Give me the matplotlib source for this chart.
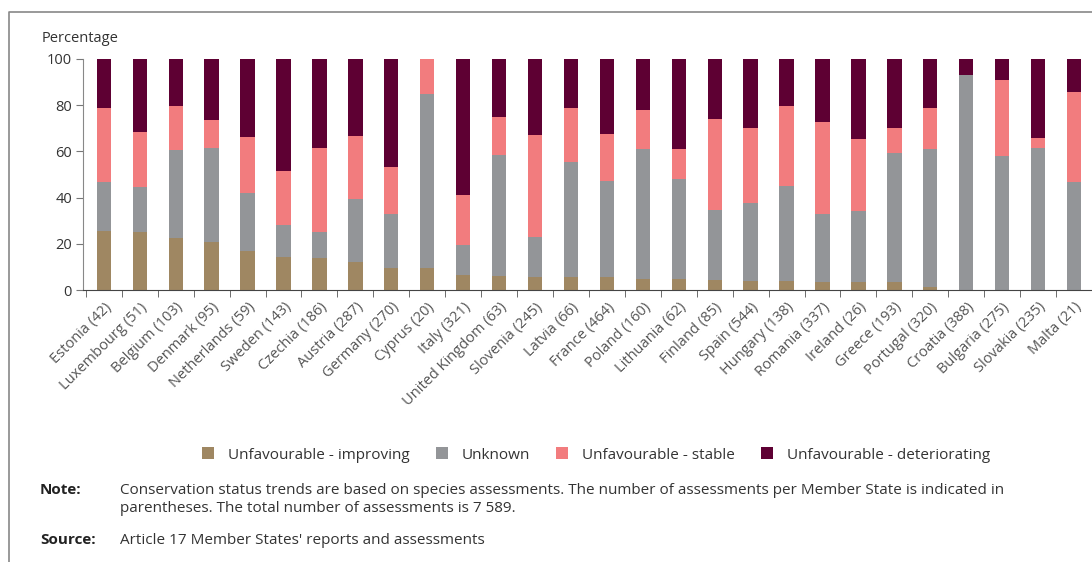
import matplotlib
matplotlib.use('Agg')
import matplotlib.pyplot as plt
import numpy as np
from matplotlib.patches import Patch
from matplotlib.lines import Line2D

plt.rcParams['font.family'] = ['Open Sans', 'DejaVu Sans']

countries = ['Estonia (42)', 'Luxembourg (51)', 'Belgium (103)', 'Denmark (95)',
             'Netherlands (59)', 'Sweden (143)', 'Czechia (186)', 'Austria (287)',
             'Germany (270)', 'Cyprus (20)', 'Italy (321)', 'United Kingdom (63)',
             'Slovenia (245)', 'Latvia (66)', 'France (464)', 'Poland (160)',
             'Lithuania (62)', 'Finland (85)', 'Spain (544)', 'Hungary (138)',
             'Romania (337)', 'Ireland (26)', 'Greece (193)', 'Portugal (320)',
             'Croatia (388)', 'Bulgaria (275)', 'Slovakia (235)', 'Malta (21)']

improving = [25.7, 25.0, 22.7, 20.6, 16.9, 14.1, 13.7, 12.0, 9.4, 9.7, 6.5, 6.1,
             5.6, 5.8, 5.8, 4.6, 4.6, 4.3, 3.9, 4.0, 3.5, 3.5, 3.3, 1.4,
             0.0, 0.0, 0.0, 0.0]
unknown = [21.2, 19.4, 37.9, 40.7, 24.9, 14.0, 11.3, 27.2, 23.4, 75.1, 12.8, 52.3,
           17.2, 49.8, 41.2, 56.3, 43.5, 30.3, 33.9, 41.2, 29.3, 30.6, 55.9, 59.6,
           93.1, 58.2, 61.3, 46.9]
stable = [31.7, 24.1, 19.1, 12.3, 24.3, 23.4, 36.6, 27.5, 20.4, 15.2, 22.0, 16.3,
          44.2, 23.2, 20.5, 16.9, 13.1, 39.6, 32.2, 34.5, 39.8, 31.3, 10.8, 17.8,
          0.0, 32.7, 4.4, 39.0]
deteriorating = [21.4, 31.5, 20.3, 26.4, 33.9, 48.5, 38.4, 33.3, 46.8, 0.0, 58.7, 25.3,
                 33.0, 21.2, 32.5, 22.2, 38.8, 25.8, 30.0, 20.3, 27.4, 34.6, 30.0, 21.2,
                 6.9, 9.1, 34.3, 14.1]

series = [improving, unknown, stable, deteriorating]
labels = ['Unfavourable - improving', 'Unknown', 'Unfavourable - stable',
          'Unfavourable - deteriorating']
colors = ['#9f8762', '#939598', '#f27c7e', '#5e0033']

fig = plt.figure(figsize=(10.92, 5.62), dpi=100)
ax = fig.add_axes([83 / 1092, 272 / 562, 1009 / 1092, 231 / 562])

x = np.arange(len(countries))
bottom = np.zeros(len(countries))
for vals, col in zip(series, colors):
    ax.bar(x, vals, width=0.4, bottom=bottom, color=col, zorder=2)
    bottom += np.array(vals)

ax.set_xlim(-0.58, 27.5)
ax.set_ylim(0, 100)
ax.set_yticks([0, 20, 40, 60, 80, 100])
ax.tick_params(axis='y', length=5, color='#777', labelsize=10.5, labelcolor='#333', pad=3)

ax.set_xticks(x)
ax.set_xticklabels(countries, rotation=45, ha='right', rotation_mode='anchor',
                   fontsize=10.5, color='#555')
ax.tick_params(axis='x', which='major', length=0, pad=7)
ax.set_xticks(np.arange(-0.5, 27.6, 1), minor=True)
ax.tick_params(axis='x', which='minor', length=5, color='#555', direction='out')

for s in ['top', 'right']:
    ax.spines[s].set_visible(False)
ax.spines['left'].set_color('#888')
ax.spines['bottom'].set_color('#444')

fig.text(42 / 1092, 1 - 38 / 562, 'Percentage', fontsize=10.5, color='#333', va='center')

handles = [Patch(facecolor=c, edgecolor='none') for c in colors]
fig.legend(handles, labels, loc='center', bbox_to_anchor=(596 / 1092, 1 - 455 / 562),
           ncol=4, frameon=False, fontsize=11, handlelength=0.8, handleheight=0.8,
           columnspacing=1.7, handletextpad=0.9, labelcolor='#333')

fig.text(40 / 1092, 1 - 490 / 562, 'Note:', fontsize=11, fontweight='bold',
         color='#222', va='center')
fig.text(120 / 1092, 1 - 490 / 562,
         'Conservation status trends are based on species assessments. The number of '
         'assessments per Member State is indicated in',
         fontsize=11, color='#333', va='center')
fig.text(120 / 1092, 1 - 509 / 562,
         'parentheses. The total number of assessments is 7 589.',
         fontsize=11, color='#333', va='center')
fig.text(40 / 1092, 1 - 540 / 562, 'Source:', fontsize=11, fontweight='bold',
         color='#222', va='center')
fig.text(120 / 1092, 1 - 540 / 562, "Article 17 Member States' reports and assessments",
         fontsize=11, color='#333', va='center')

# outer frame
fig.add_artist(Line2D([9 / 1092, 9 / 1092, 1.0], [0.0, 1 - 12 / 562, 1 - 12 / 562],
                      color='#888', lw=1.2, transform=fig.transFigure))

fig.savefig('out.png', dpi=100)
